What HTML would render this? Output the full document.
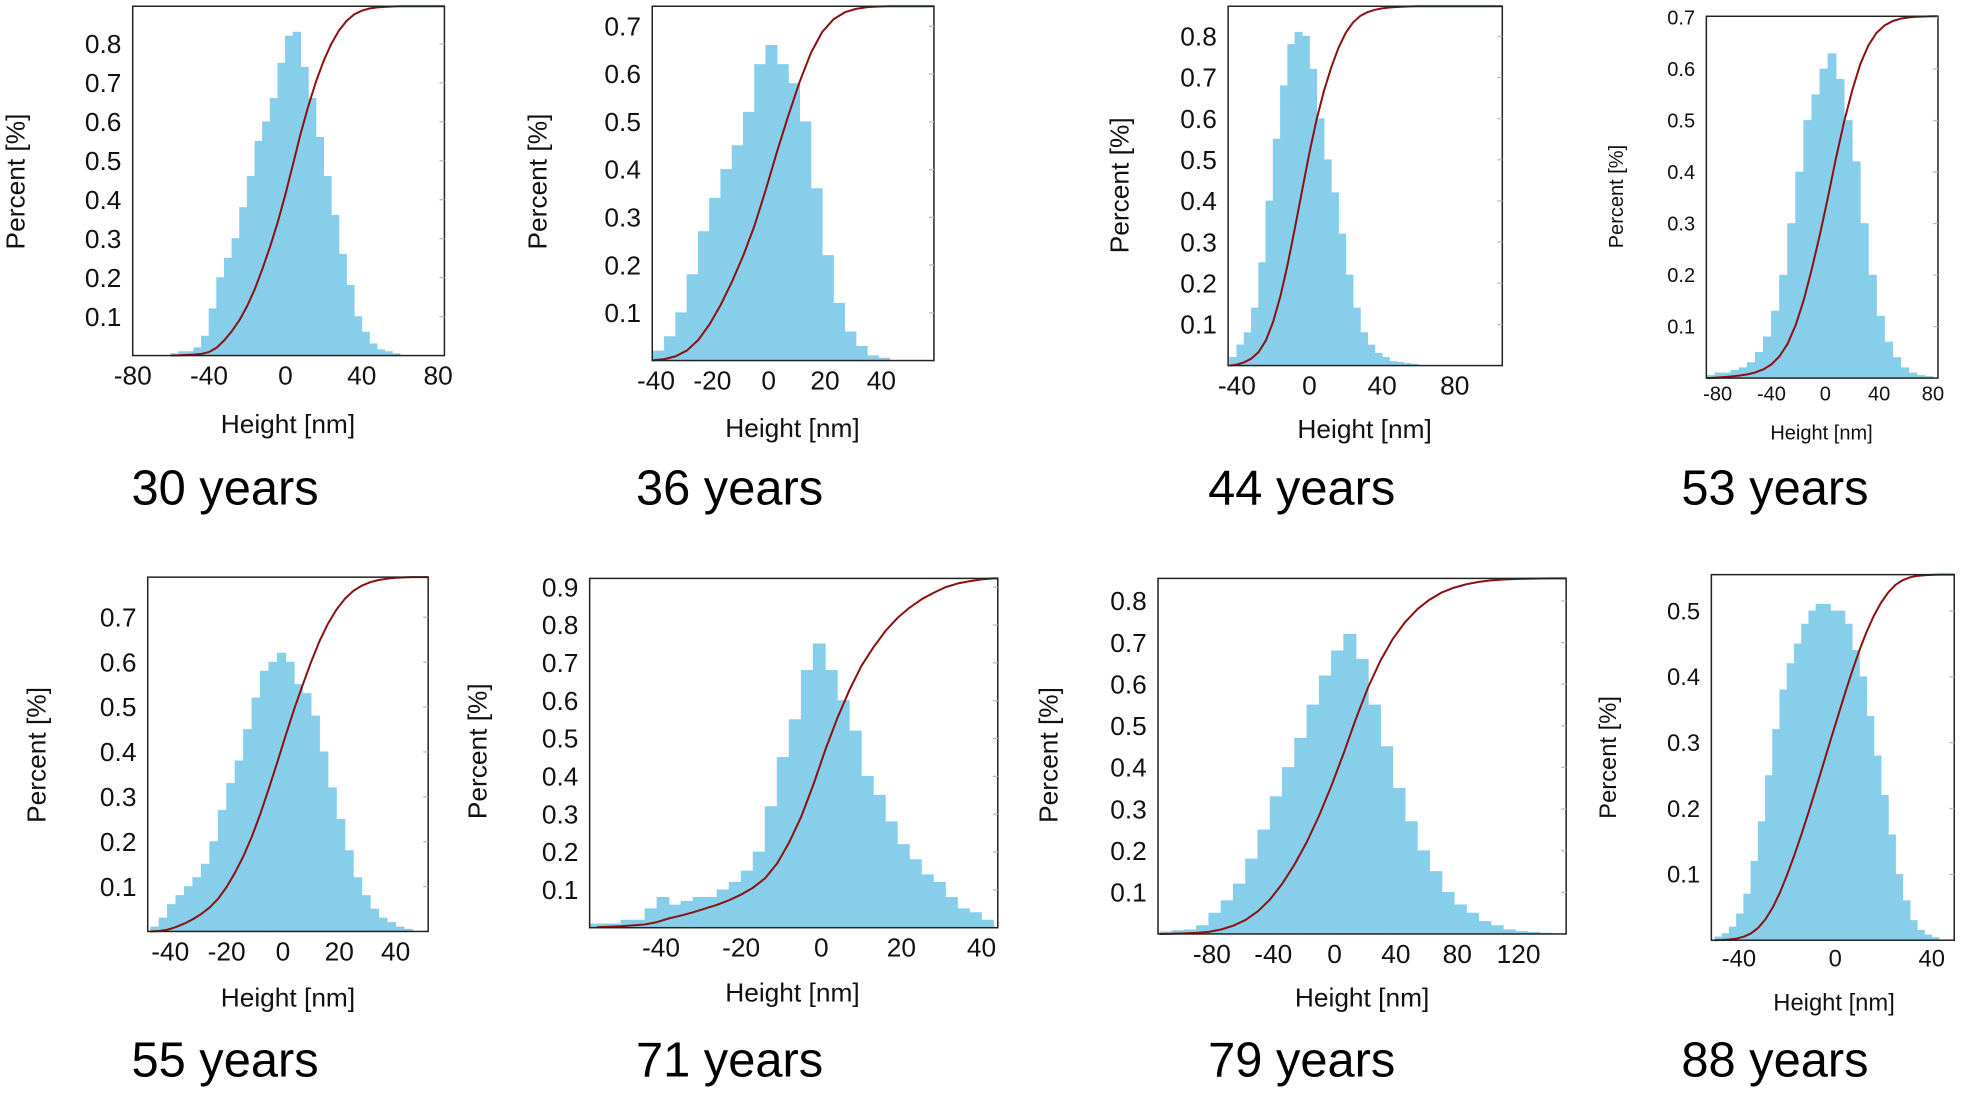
<!DOCTYPE html>
<html><head><meta charset="utf-8"><style>
html,body{margin:0;padding:0;background:#fff;}
svg{display:block;font-family:"Liberation Sans",Arial,sans-serif;}
</style></head><body>
<svg id="fig" width="1963" height="1118" viewBox="0 0 1568 893" preserveAspectRatio="none" xmlns="http://www.w3.org/2000/svg"></svg>
<script>
// ---- data (bin start, bin step, bin values in %) ----
const labels = ["30 years","36 years","44 years","53 years","55 years","71 years","79 years","88 years"];
const binStart = [-60,-45,-44,-88,-47,-59,-114,-50];
const binStep = [4,4,4,6,3,3,8,3];
const vals30 = [0.005,0.01,0.01,0.02,0.05,0.12,0.2,0.25,0.3,0.38,0.46,0.55,0.6,0.66,0.75,0.82,0.83,0.74,0.66,0.56,0.46,0.36,0.26,0.18,0.1,0.06,0.03,0.015,0.01,0.005];
const vals36 = [0.005,0.02,0.05,0.1,0.18,0.27,0.34,0.4,0.45,0.52,0.62,0.66,0.62,0.58,0.5,0.36,0.22,0.12,0.06,0.03,0.01,0.005];
const vals44 = [0.02,0.05,0.08,0.14,0.25,0.4,0.55,0.68,0.78,0.81,0.8,0.72,0.6,0.5,0.42,0.32,0.22,0.14,0.08,0.05,0.03,0.02,0.01,0.008,0.005,0.003];
const vals53 = [0.005,0.01,0.01,0.015,0.02,0.03,0.05,0.08,0.13,0.2,0.3,0.4,0.5,0.55,0.6,0.63,0.58,0.5,0.42,0.3,0.2,0.12,0.07,0.04,0.02,0.01,0.005,0.003];
const vals55 = [0.01,0.03,0.06,0.08,0.1,0.12,0.15,0.2,0.27,0.33,0.38,0.45,0.52,0.58,0.6,0.62,0.6,0.55,0.53,0.48,0.4,0.32,0.25,0.18,0.12,0.08,0.05,0.03,0.02,0.01,0.005];
const vals71 = [0.01,0.01,0.01,0.02,0.02,0.05,0.08,0.06,0.07,0.08,0.08,0.1,0.12,0.15,0.2,0.32,0.45,0.55,0.68,0.75,0.68,0.6,0.52,0.4,0.35,0.28,0.22,0.18,0.14,0.12,0.08,0.05,0.04,0.02];
const vals79 = [0.005,0.008,0.01,0.02,0.05,0.08,0.12,0.18,0.25,0.33,0.4,0.47,0.55,0.62,0.68,0.72,0.66,0.55,0.45,0.35,0.27,0.2,0.15,0.1,0.07,0.05,0.03,0.02,0.01,0.006,0.004,0.002];
const vals88 = [0.005,0.01,0.02,0.04,0.07,0.12,0.18,0.25,0.32,0.38,0.42,0.45,0.48,0.5,0.51,0.51,0.5,0.5,0.48,0.44,0.4,0.34,0.28,0.22,0.16,0.1,0.06,0.03,0.015,0.008,0.004];
const allVals = [vals30,vals36,vals44,vals53,vals55,vals71,vals79,vals88];
const xTicks = [[-80,-40,0,40,80],[-40,-20,0,20,40],[-40,0,40,80],[-80,-40,0,40,80],[-40,-20,0,20,40],[-40,-20,0,20,40],[-80,-40,0,40,80,120],[-40,0,40]];
const yTicks = [[0.1,0.2,0.3,0.4,0.5,0.6,0.7,0.8],[0.1,0.2,0.3,0.4,0.5,0.6,0.7],[0.1,0.2,0.3,0.4,0.5,0.6,0.7,0.8],[0.1,0.2,0.3,0.4,0.5,0.6,0.7],[0.1,0.2,0.3,0.4,0.5,0.6,0.7],[0.1,0.2,0.3,0.4,0.5,0.6,0.7,0.8,0.9],[0.1,0.2,0.3,0.4,0.5,0.6,0.7,0.8],[0.1,0.2,0.3,0.4,0.5]];

// ---- layout ----
const L = [
 {box:[106,5,355,284], xa:[0,228,40,289], ya:[0.8,35], fs:21, yt:[14,145], xt:[230,346], lab:[105,403]},
 {box:[521,5,746,288], xa:[0,614,20,659], ya:[0.7,21], fs:21, yt:[431,145], xt:[633,349], lab:[508,403]},
 {box:[981,5,1200,292], xa:[0,1046,40,1104], ya:[0.8,29], fs:21, yt:[896,148], xt:[1090,350], lab:[965,403]},
 {box:[1363,13,1548,302], xa:[0,1458,40,1501], ya:[0.7,14], fs:16, yt:[1292,157], xt:[1455,351], lab:[1343,403]},
 {box:[118,461,342,744], xa:[0,226,20,271], ya:[0.7,493], fs:21, yt:[31,603], xt:[230,804], lab:[105,860]},
 {box:[471,462,797,741], xa:[0,656,20,720], ya:[0.9,469], fs:21, yt:[383,600], xt:[633,800], lab:[508,860]},
 {box:[925,462,1251,746], xa:[0,1066,40,1115], ya:[0.8,480], fs:21, yt:[839,603], xt:[1088,804], lab:[965,860]},
 {box:[1367,459,1561,751], xa:[0,1466,40,1543], ya:[0.5,488], fs:19, yt:[1286,605], xt:[1465,807], lab:[1343,860]}
];
const NS="http://www.w3.org/2000/svg";
const svg=document.getElementById('fig');
function mk(tag,attrs,parent){const e=document.createElementNS(NS,tag);for(const k in attrs)e.setAttribute(k,attrs[k]);(parent||svg).appendChild(e);return e;}

L.forEach((p,i)=>{
  const g=mk('g',{});
  
  
  const [x0,y0,x1,y1]=p.box;
  const kx=(p.xa[3]-p.xa[1])/(p.xa[2]-p.xa[0]);
  const X=v=>p.xa[1]+(v-p.xa[0])*kx;
  const ky=(y1-p.ya[1])/p.ya[0];
  const Y=v=>y1-v*ky;
  const vals=allVals[i], st=binStart[i], stp=binStep[i];
  let d='';
  vals.forEach((v,j)=>{
    const a=Math.max(x0,X(st+j*stp)), b=Math.min(x1,X(st+(j+1)*stp));
    if(b>a) d+=`M${a},${y1}V${Y(v)}H${b}V${y1}Z`;
  });
  const bars=mk('path',{d:d,fill:'#87ceeb',stroke:'#87ceeb','stroke-width':0.6},g);
  
  
  const tot=vals.reduce((s,v)=>s+v,0);
  let c=0; const pts=[[X(st),y1]];
  vals.forEach((v,j)=>{c+=v;pts.push([X(st+(j+1)*stp),y1-(c/tot)*(y1-y0)]);});
  pts.push([x1,y0]);
  const pstr=pts.filter(q=>q[0]>=x0-0.1).map(q=>[Math.min(x1,q[0]),q[1]].join(',')).join(' ');
  const cdf=mk('polyline',{points:pstr,fill:'none',stroke:'#8b1010','stroke-width':1.6,'stroke-linejoin':'round'},g);
  
  
  const bx=mk('rect',{x:x0,y:y0,width:x1-x0,height:y1-y0,fill:'none',stroke:'#222','stroke-width':1.2},g);
  
  
  xTicks[i].forEach(t=>{
    const tx=mk('text',{x:X(t),y:y1+p.fs+2,'font-size':p.fs,'text-anchor':'middle',fill:'#111'},g);
    tx.textContent=(t<0?'-'+(-t):t);
    
    
  });
  yTicks[i].forEach(t=>{
    const ty=mk('text',{x:x0-9,y:Y(t)+p.fs*0.35,'font-size':p.fs,'text-anchor':'end',fill:'#111'},g);
    ty.textContent=t.toFixed(1);
    
    
    mk('line',{x1:x1-4,x2:x1,y1:Y(t),y2:Y(t),stroke:'#bbb','stroke-width':1},g);
  });
  const yt=mk('text',{x:p.yt[0],y:p.yt[1],'font-size':p.fs,'text-anchor':'middle',fill:'#111',transform:`rotate(-90 ${p.yt[0]} ${p.yt[1]})`,'dominant-baseline':'middle'},g);
  yt.textContent='Percent [%]';
  
  
  const xt=mk('text',{x:p.xt[0],y:p.xt[1],'font-size':p.fs,'text-anchor':'middle',fill:'#111'},g);
  xt.textContent='Height [nm]';
  
  
  const lb=mk('text',{x:p.lab[0],y:p.lab[1],'font-size':39,fill:'#000'},g);
  lb.textContent=labels[i];
  
  
});
</script>
</body></html>
